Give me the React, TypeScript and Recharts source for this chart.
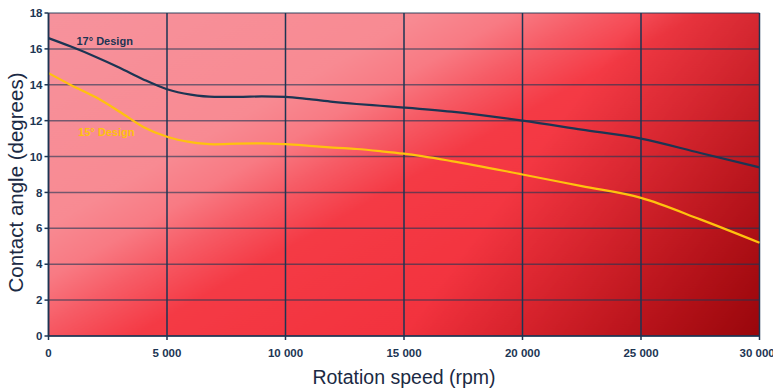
import { CartesianGrid, Line, LineChart, ReferenceDot, XAxis, YAxis } from 'recharts';

const rpm = [0, 1000, 2000, 3000, 4000, 5000, 6000, 7000, 8000, 9000, 10000, 11000, 12000, 13000, 14000, 15000, 17000, 20000, 22500, 25000, 27500, 30000];
const design17 = [16.6, 16.1, 15.55, 14.95, 14.3, 13.75, 13.45, 13.33, 13.33, 13.35, 13.33, 13.2, 13.05, 12.93, 12.83, 12.73, 12.5, 12.0, 11.5, 11.0, 10.2, 9.4];
const design15 = [14.65, 13.95, 13.3, 12.5, 11.65, 11.1, 10.8, 10.68, 10.72, 10.74, 10.69, 10.6, 10.5, 10.42, 10.3, 10.16, 9.75, 9.0, 8.35, 7.7, 6.5, 5.2];
const xTicks = [0, 5000, 10000, 15000, 20000, 25000, 30000];
const yTicks = [0, 2, 4, 6, 8, 10, 12, 14, 16, 18];

const data = rpm.map((r, i) => ({ rpm: r, d17: design17[i], d15: design15[i] }));

const navy = '#1c3553';
const yellow = '#ffc20e';
const font = '"Liberation Sans", Arial, sans-serif';

const fmt = (v: number) => (v >= 1000 ? `${Math.floor(v / 1000)} ${String(v % 1000).padStart(3, '0')}` : String(v));

const YTitle = (props: any) => {
  const vb = props.viewBox;
  const x = vb.x + 14;
  const y = vb.y + vb.height / 2 + 8;
  return (
    <text x={x} y={y} transform={`rotate(-90, ${x}, ${y})`} textAnchor="middle" fill="#1b2a44" fontSize={20.5} fontFamily={font}>
      Contact angle (degrees)
    </text>
  );
};

export default function App() {
  return (
    <div style={{ position: 'absolute', left: 0, top: 0, width: 773, height: 392, background: '#fff' }}>
      <LineChart width={773} height={392} data={data} margin={{ top: 13, right: 13.5, bottom: 26, left: 8.5 }}>
        <defs>
          {/* pink top-left fading to bright red */}
          <linearGradient id="bgBase" x1="0" y1="0" x2="1" y2="0.8">
            <stop offset="0%" stopColor="#f6929c" />
            <stop offset="32%" stopColor="#f88a92" />
            <stop offset="40%" stopColor="#f87a83" />
            <stop offset="47%" stopColor="#f65c66" />
            <stop offset="56%" stopColor="#f43a45" />
            <stop offset="100%" stopColor="#f02a36" />
          </linearGradient>
          {/* darkening toward the right / bottom-right */}
          <linearGradient id="bgDark" x1="0.83" y1="0" x2="1.28" y2="0.15">
            <stop offset="0%" stopColor="#8a0004" stopOpacity={0} />
            <stop offset="34%" stopColor="#8a0004" stopOpacity={0.28} />
            <stop offset="100%" stopColor="#8a0004" stopOpacity={0.85} />
          </linearGradient>
          <pattern id="bg" patternUnits="objectBoundingBox" patternContentUnits="objectBoundingBox" width="1" height="1">
            <rect x="0" y="0" width="1" height="1" fill="url(#bgBase)" />
            <rect x="0" y="0" width="1" height="1" fill="url(#bgDark)" />
          </pattern>
        </defs>
        <CartesianGrid fill="url(#bg)" fillOpacity={1} vertical={false} stroke={navy} strokeOpacity={0.6} strokeWidth={1.5} strokeDasharray="" />
        <CartesianGrid horizontal={false} stroke={navy} strokeWidth={1.5} strokeDasharray="" />
        <XAxis
          dataKey="rpm"
          type="number"
          domain={[0, 30000]}
          ticks={xTicks}
          tickFormatter={fmt}
          stroke={navy}
          strokeWidth={1.5}
          tickSize={4}
          tickMargin={9}
          height={30}
          tick={{ fill: navy, fontSize: 11.5, fontWeight: 700, fontFamily: font }}
          label={{ value: 'Rotation speed (rpm)', position: 'bottom', offset: 4, fill: '#1b2a44', fontSize: 19.5, fontFamily: font }}
        />
        <YAxis
          type="number"
          domain={[0, 18]}
          ticks={yTicks}
          width={40}
          stroke={navy}
          strokeWidth={1.5}
          tickSize={4}
          tickMargin={2}
          tick={{ fill: navy, fontSize: 11.5, fontWeight: 700, fontFamily: font }}
          label={{ content: YTitle }}
        />
        <Line type="monotone" dataKey="d17" stroke={navy} strokeWidth={2.2} dot={false} isAnimationActive={false} />
        <Line type="monotone" dataKey="d15" stroke={yellow} strokeWidth={2.2} dot={false} isAnimationActive={false} />
        <ReferenceDot x={970} y={16.45} r={0} fill="none" stroke="none" label={{ value: '17° Design', position: 'right', fill: navy, fontSize: 11, fontWeight: 700, fontFamily: font }} />
        <ReferenceDot x={1046} y={11.37} r={0} fill="none" stroke="none" label={{ value: '15° Design', position: 'right', fill: yellow, fontSize: 11, fontWeight: 700, fontFamily: font }} />
      </LineChart>
    </div>
  );
}
